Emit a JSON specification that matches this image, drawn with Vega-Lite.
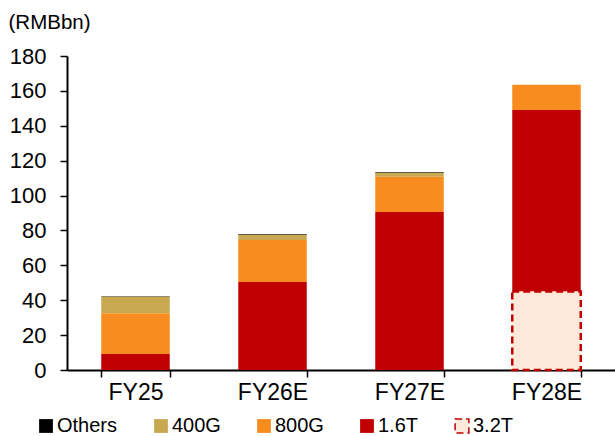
{
  "$schema": "https://vega.github.io/schema/vega-lite/v6.json",
  "width": 548,
  "height": 314,
  "autosize": {"type": "none"},
  "padding": {"left": 67, "top": 56, "right": 0, "bottom": 66},
  "background": "white",
  "config": {
    "view": {"stroke": null},
    "font": "Liberation Sans",
    "axis": {"grid": false, "domainColor": "#000000", "domainWidth": 2, "tickColor": "#000000", "tickWidth": 1.5, "labelColor": "#000000", "labelFont": "Liberation Sans", "titleFont": "Liberation Sans"},
    "legend": {"labelFont": "Liberation Sans"}
  },
  "datasets": {
    "seriesInfo": [
      {"series": "3.2T", "stackRank": 1},
      {"series": "1.6T", "stackRank": 2},
      {"series": "800G", "stackRank": 3},
      {"series": "400G", "stackRank": 4},
      {"series": "Others", "stackRank": 5}
    ]
  },
  "data": {
    "values": [
      {"year": "FY25", "series": "Others", "value": 0.3},
      {"year": "FY25", "series": "400G", "value": 9.5},
      {"year": "FY25", "series": "800G", "value": 23.3},
      {"year": "FY25", "series": "1.6T", "value": 9.2},
      {"year": "FY26E", "series": "Others", "value": 0.5},
      {"year": "FY26E", "series": "400G", "value": 3.0},
      {"year": "FY26E", "series": "800G", "value": 24.0},
      {"year": "FY26E", "series": "1.6T", "value": 50.5},
      {"year": "FY27E", "series": "Others", "value": 0.4},
      {"year": "FY27E", "series": "400G", "value": 2.3},
      {"year": "FY27E", "series": "800G", "value": 20.2},
      {"year": "FY27E", "series": "1.6T", "value": 90.6},
      {"year": "FY28E", "series": "800G", "value": 14.5},
      {"year": "FY28E", "series": "1.6T", "value": 104},
      {"year": "FY28E", "series": "3.2T", "value": 45}
    ]
  },
  "transform": [
    {"lookup": "series", "from": {"data": {"name": "seriesInfo"}, "key": "series", "fields": ["stackRank"]}}
  ],
  "mark": {"type": "bar", "strokeWidth": 2.5},
  "encoding": {
    "x": {
      "field": "year", "type": "nominal", "sort": null,
      "scale": {"paddingInner": 0.5, "paddingOuter": 0.25},
      "axis": {"title": null, "labelAngle": 0, "labelFontSize": 23, "labelPadding": 4, "tickSize": 7, "tickBand": "extent"}
    },
    "y": {
      "field": "value", "type": "quantitative", "stack": "zero",
      "scale": {"domain": [0, 180], "nice": false},
      "axis": {
        "values": [0, 20, 40, 60, 80, 100, 120, 140, 160, 180],
        "labelFontSize": 22, "tickSize": 7, "labelPadding": 14,
        "title": "(RMBbn)", "titleAngle": 0, "titleAlign": "left", "titleBaseline": "middle",
        "titleX": -59, "titleY": -34, "titleFontSize": 20.5, "titleFontWeight": "normal", "titleColor": "#000000"
      }
    },
    "order": {"field": "stackRank", "type": "quantitative", "sort": "ascending"},
    "color": {
      "field": "series", "type": "nominal",
      "scale": {"domain": ["Others", "400G", "800G", "1.6T", "3.2T"], "range": ["#000000", "#C8A850", "#F98C1F", "#C00000", "#FDE9D9"]},
      "legend": {"orient": "none", "legendX": -31, "legendY": 360, "direction": "horizontal", "title": null, "symbolType": "square", "symbolSize": 190, "labelFontSize": 20, "labelColor": "#000000", "columnPadding": 33, "labelOffset": 1, "symbolOpacity": 1}
    },
    "stroke": {
      "field": "series", "type": "nominal",
      "scale": {"domain": ["Others", "400G", "800G", "1.6T", "3.2T"], "range": ["transparent", "transparent", "transparent", "transparent", "#C00000"]},
      "legend": {"orient": "none", "legendX": -31, "legendY": 360, "direction": "horizontal", "title": null, "symbolType": "square", "symbolSize": 190, "labelFontSize": 20, "labelColor": "#000000", "columnPadding": 33, "labelOffset": 1}
    },
    "strokeDash": {
      "field": "series", "type": "nominal",
      "scale": {"domain": ["Others", "400G", "800G", "1.6T", "3.2T"], "range": [[1, 0], [1, 0], [1, 0], [1, 0], [7, 4]]},
      "legend": {"orient": "none", "legendX": -31, "legendY": 360, "direction": "horizontal", "title": null, "symbolType": "square", "symbolSize": 190, "labelFontSize": 20, "labelColor": "#000000", "columnPadding": 33, "labelOffset": 1}
    }
  }
}
